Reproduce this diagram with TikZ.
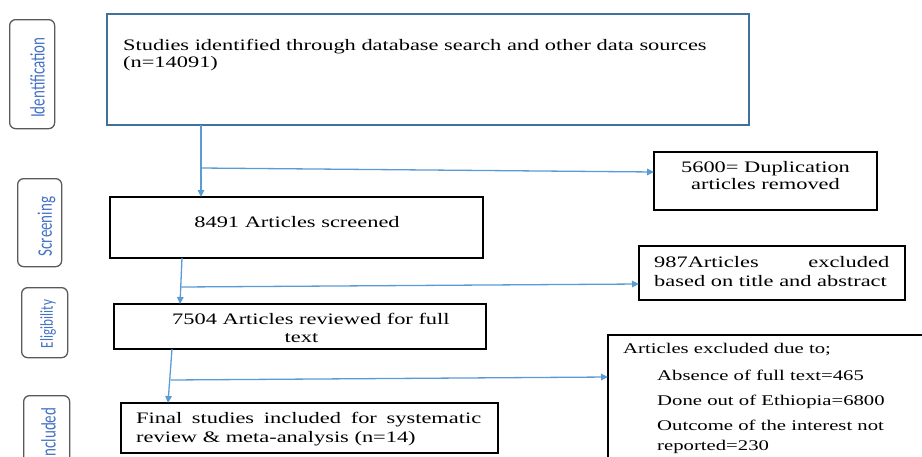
\documentclass[tikz,border=0pt]{standalone}
\usepackage{fontspec}
\setmainfont{Liberation Serif}[FakeStretch=1.4]
\newfontfamily\lblfont{Carlito}
\usetikzlibrary{arrows.meta}
\definecolor{boxblue}{HTML}{41719C}
\definecolor{arrblue}{HTML}{5B9BD5}
\definecolor{lbltext}{HTML}{4472C4}
\definecolor{lblborder}{HTML}{595959}
\begin{document}
\begin{tikzpicture}[x=1pt,y=-1pt,
  box/.style={draw=black, line width=1.8pt, anchor=north west, inner sep=0pt, outer sep=0pt},
  topbox/.style={draw=boxblue, line width=1.6pt, anchor=north west, inner sep=0pt, outer sep=0pt},
  lbl/.style={draw=lblborder, line width=1.3pt, rounded corners=6pt, anchor=north west, inner sep=0pt},
  lbltxt/.style={text=lbltext, rotate=90, inner sep=0pt},
  txt/.style={font=\fontsize{16}{19}\selectfont, inner sep=0pt, anchor=base west},
  txtc/.style={font=\fontsize{16}{19}\selectfont, inner sep=0pt, anchor=base},
  txts/.style={font=\fontsize{14.8}{18}\selectfont, inner sep=0pt, anchor=base west},
  flow/.style={draw=arrblue, line width=1.3pt, -{Triangle[length=7pt,width=6.5pt]}},
]
\useasboundingbox (0,0) rectangle (922,456);
\clip (0,0) rectangle (922,456);

% stage labels
\node[lbl, minimum width=45pt, minimum height=109pt] (L1) at (9,19) {};
\node[lbl, minimum width=44pt, minimum height=88pt] (L2) at (17,178) {};
\node[lbl, minimum width=46pt, minimum height=70pt] (L3) at (21,287) {};
\node[lbl, minimum width=46pt, minimum height=90pt] (L4) at (23,395) {};
\node[lbltxt] (L1t) at (37.5,77.5) {\scalebox{1}[1.38]{\lblfont\fontsize{15}{15}\selectfont Identification}};
\node[lbltxt] (L2t) at (46.5,226.5) {\scalebox{1}[1.38]{\lblfont\fontsize{15}{15}\selectfont Screening}};
\node[lbltxt] (L3t) at (48,324) {\scalebox{1}[1.38]{\lblfont\fontsize{13.2}{14}\selectfont Eligibility}};
\node[lbltxt] (L4t) at (48.5,434) {\scalebox{1}[1.38]{\lblfont\fontsize{15}{15}\selectfont Included}};

% main boxes
\node[topbox, minimum width=642pt, minimum height=111pt] (ident) at (107,14) {};
\node[box, minimum width=373pt, minimum height=61pt] (scr) at (110,197) {};
\node[box, minimum width=372pt, minimum height=45pt] (elig) at (114,304) {};
\node[box, minimum width=377pt, minimum height=50pt] (incl) at (121,403) {};
\node[box, minimum width=223pt, minimum height=58pt] (dup) at (654,152) {};
\node[box, minimum width=266pt, minimum height=54pt] (tab) at (639,246) {};
\node[box, minimum width=340pt, minimum height=150pt] (excl) at (608,335) {};

% texts
\node[txt] (t1a) at (123,50) {Studies identified through database search and other data sources};
\node[txt] (t1b) at (123,67) {(n=14091)};
\node[txtc] (t2) at (297,227) {8491 Articles screened};
\node[txt] (t3a) at (172,324) {7504 Articles reviewed for full};
\node[txtc] (t3b) at (301.5,342) {text};
\node[txt] (t4a) at (136,423.5) {\makebox[345pt][s]{Final studies included for systematic}};
\node[txt] (t4b) at (136,442) {review \& meta-analysis (n=14)};
\node[txtc] (t5a) at (765.5,172) {5600= Duplication};
\node[txtc] (t5b) at (765.5,189.5) {articles removed};
\node[txt] (t6a) at (654,267) {\makebox[235pt][s]{987Articles excluded}};
\node[txt] (t6b) at (654,286) {based on title and abstract};
\node[txts] (t7a) at (623,353) {Articles excluded due to;};
\node[txts] (t7b) at (657,380) {Absence of full text=465};
\node[txts] (t7c) at (657,405) {Done out of Ethiopia=6800};
\node[txts] (t7d) at (657,430.7) {Outcome of the interest not};
\node[txts] (t7e) at (657,450) {reported=230};

% connectors
\draw[flow] ([xshift=94pt]ident.south west) -- ([xshift=91pt]scr.north west);
\coordinate (b1) at (201,168);
\draw[flow] (b1) -- ([yshift=-20pt]dup.north west);

\draw[flow] ([xshift=72pt]scr.south west) -- ([xshift=66pt]elig.north west);
\coordinate (b2) at (181,287);
\draw[flow] (b2) -- ([yshift=-38pt]tab.north west);

\draw[flow] ([xshift=58pt]elig.south west) -- ([xshift=47pt]incl.north west);
\coordinate (b3) at (170.5,380);
\draw[flow] (b3) -- ([yshift=-42pt]excl.north west);
\end{tikzpicture}
\end{document}
